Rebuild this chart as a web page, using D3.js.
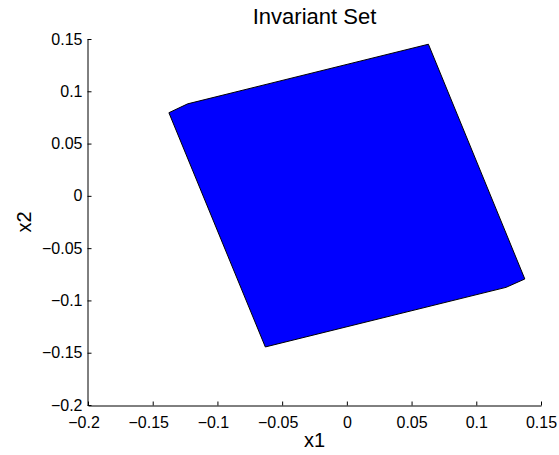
<!DOCTYPE html>
<html>
<head>
<meta charset="utf-8">
<script src="https://cdn.jsdelivr.net/npm/d3@7"></script>
<style>
  html, body { margin: 0; padding: 0; background: #fff; }
  svg { display: block; font-family: "Liberation Sans", Arial, Helvetica, sans-serif; }
</style>
</head>
<body>
<svg id="chart" width="559" height="455"></svg>
<script>
// Vertices of the invariant polytope in the (x1, x2) plane
const vertexX1 = [-0.1375, -0.123, 0.063, 0.1375, 0.123, -0.063];
const vertexX2 = [0.0795, 0.088, 0.145, -0.0795, -0.0875, -0.1445];

// Tick values on both axes
const xTicks = [-0.2, -0.15, -0.1, -0.05, 0, 0.05, 0.1, 0.15];
const yTicks = [-0.2, -0.15, -0.1, -0.05, 0, 0.05, 0.1, 0.15];
const tickLabels = ["\u22120.2", "\u22120.15", "\u22120.1", "\u22120.05", "0", "0.05", "0.1", "0.15"];

const titleText = "Invariant Set";
const xLabel = "x1";
const yLabel = "x2";

const svg = d3.select("#chart");
const plotLeft = 88, plotRight = 541, plotTop = 39, plotBottom = 405;

const x = d3.scaleLinear().domain([-0.2, 0.15]).range([plotLeft, plotRight]);
const y = d3.scaleLinear().domain([-0.2, 0.15]).range([plotBottom, plotTop]);

// Filled polygon
const pts = vertexX1.map((v, i) => [x(v), y(vertexX2[i])]);
svg.append("path")
  .attr("d", d3.line()(pts) + "Z")
  .attr("fill", "#0000ff")
  .attr("stroke", "#000")
  .attr("stroke-width", 1)
  .attr("stroke-linejoin", "miter");

// Bottom axis, ticks pointing inward
const xAxis = d3.axisBottom(x)
  .tickValues(xTicks)
  .tickSizeInner(-4)
  .tickSizeOuter(0)
  .tickPadding(10)
  .tickFormat(d => tickLabels[xTicks.indexOf(d)]);

const gx = svg.append("g")
  .attr("transform", `translate(0,${plotBottom + 0.5})`)
  .call(xAxis);
gx.selectAll("text")
  .attr("font-size", 16)
  .attr("fill", "#000")
  .attr("dx", d => d < 0 ? -4.5 : 0)
  .attr("dy", "0.75em");

// Left axis, ticks pointing inward
const yAxis = d3.axisLeft(y)
  .tickValues(yTicks)
  .tickSizeInner(-4)
  .tickSizeOuter(0)
  .tickPadding(5)
  .tickFormat(d => tickLabels[yTicks.indexOf(d)]);

const gy = svg.append("g")
  .attr("transform", `translate(${plotLeft - 0.5},0)`)
  .call(yAxis);
gy.selectAll("text")
  .attr("font-size", 16)
  .attr("fill", "#000");

svg.selectAll(".domain, .tick line").attr("stroke", "#000").attr("stroke-width", 1);
svg.selectAll(".tick text").attr("font-family", "Liberation Sans, Arial, sans-serif");

// Title and axis labels
svg.append("text")
  .attr("x", (plotLeft + plotRight) / 2)
  .attr("y", 23.5)
  .attr("text-anchor", "middle")
  .attr("font-size", 22)
  .attr("fill", "#000")
  .text(titleText);

svg.append("text")
  .attr("x", (plotLeft + plotRight) / 2)
  .attr("y", 447)
  .attr("text-anchor", "middle")
  .attr("font-size", 20)
  .attr("fill", "#000")
  .text(xLabel);

svg.append("text")
  .attr("transform", `translate(30.5,${(plotTop + plotBottom) / 2}) rotate(-90)`)
  .attr("text-anchor", "middle")
  .attr("font-size", 20)
  .attr("fill", "#000")
  .text(yLabel);
</script>
</body>
</html>
